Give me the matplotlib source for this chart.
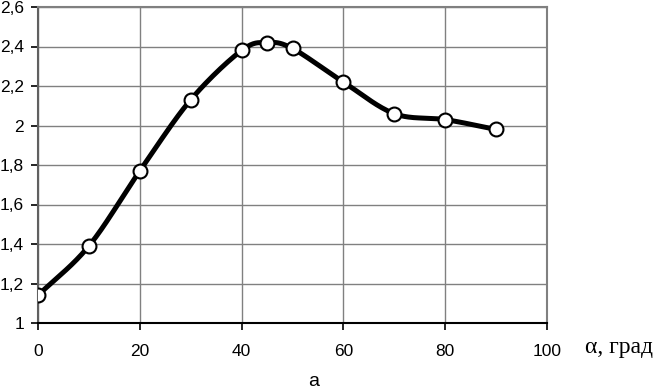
import numpy as np
import matplotlib.pyplot as plt
from matplotlib.ticker import FuncFormatter

# Data
alpha = [0, 10, 20, 30, 40, 45, 50, 60, 70, 80, 90]
values = [1.14, 1.39, 1.77, 2.13, 2.38, 2.42, 2.39, 2.22, 2.06, 2.03, 1.98]
x_ticks = [0, 20, 40, 60, 80, 100]
y_ticks = [1, 1.2, 1.4, 1.6, 1.8, 2, 2.2, 2.4, 2.6]


def smooth(x, y, n=30):
    # Catmull-Rom style smoothing, similar to Excel's smoothed line
    x = np.asarray(x, float)
    y = np.asarray(y, float)
    px = np.concatenate([[2 * x[0] - x[1]], x, [2 * x[-1] - x[-2]]])
    py = np.concatenate([[2 * y[0] - y[1]], y, [2 * y[-1] - y[-2]]])
    xs, ys = [], []
    t = np.linspace(0, 1, n)
    for i in range(1, len(px) - 2):
        for p, out in ((px, xs), (py, ys)):
            p0, p1, p2, p3 = p[i - 1], p[i], p[i + 1], p[i + 2]
            out.extend(0.5 * (2 * p1 + (-p0 + p2) * t
                              + (2 * p0 - 5 * p1 + 4 * p2 - p3) * t ** 2
                              + (-p0 + 3 * p1 - 3 * p2 + p3) * t ** 3))
    return np.array(xs), np.array(ys)


plt.rcParams['font.family'] = ['Liberation Sans', 'DejaVu Sans']

fig = plt.figure(figsize=(6.6, 3.88), dpi=100)
ax = fig.add_axes([38 / 660, 1 - 323 / 388, (547 - 38) / 660, (323 - 7) / 388])

sx, sy = smooth(alpha, values)
ax.plot(sx, sy, color='black', lw=3.6, solid_capstyle='round', zorder=3)
ax.plot(alpha, values, ls='none', marker='o', ms=10, mfc='white',
        mec='black', mew=1.5, zorder=4)

ax.set_xlim(0, 100)
ax.set_ylim(1, 2.6)
ax.set_xticks(x_ticks)
ax.set_yticks(y_ticks)
ax.yaxis.set_major_formatter(FuncFormatter(lambda v, p: f'{v:g}'.replace('.', ',')))
ax.grid(True, color='#808080', lw=1)
ax.set_axisbelow(True)

for s in ('top', 'right'):
    ax.spines[s].set_color('#808080')
    ax.spines[s].set_linewidth(1.5)
ax.spines['left'].set_color('#606060')
ax.spines['left'].set_linewidth(1.5)
ax.spines['bottom'].set_color('black')
ax.spines['bottom'].set_linewidth(1.5)

ax.tick_params(axis='both', direction='out', length=5, width=1.2,
               labelsize=12.5, color='black')
ax.tick_params(axis='x', pad=10)
ax.tick_params(axis='y', pad=5)

fig.text(585 / 660, 1 - 348 / 388, 'α, град', family=['Liberation Serif', 'DejaVu Serif'],
         fontsize=17, va='center', ha='left')
fig.text(314 / 660, 1 - 381 / 388, 'а', fontsize=14, va='center', ha='center')

fig.savefig('out.png', dpi=100)
